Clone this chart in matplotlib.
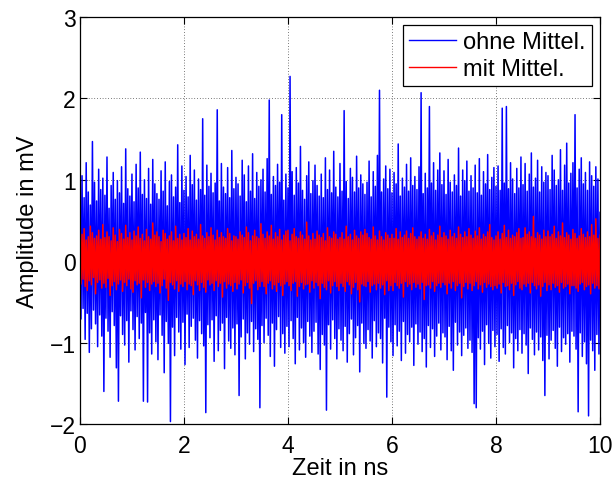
import numpy as np
import matplotlib.pyplot as plt
from matplotlib.lines import Line2D

plt.rcParams['font.family'] = ['Liberation Sans', 'DejaVu Sans']

# Messwerte ohne Mittelung (mV), Ober-/Unterkante je Pixelspalte aus dem Bild abgeschaetzt
ohne_mittel = [
    0.92, -0.71, 1.05, -0.58, 0.78, -0.96, 1.21, -0.64, 0.85, -1.12, 0.69, -0.83, 1.47, -0.6, 0.97, -0.77, 0.74, -1.05, 1.13, -0.66, 0.88, -0.92, 1.02, -1.6, 0.81,
    -0.7, 1.28, -0.86, 0.65, -1.18, 0.93, -0.62, 1.09, -0.79, 0.76, -1.31, 0.99, -1.72, 0.84, -0.67, 1.16, -0.9, 0.71, -1.03, 1.38, -0.73, 0.89, -1.24, 0.8, -0.61,
    1.07, -0.84, 0.73, -1.09, 1.19, -0.68, 0.9, -0.95, 1.34, -0.76, 0.82, -1.72, 1.0, -0.63, 0.77, -1.73, 1.14, -0.88, 0.7, -1.14, 1.25, -0.72, 0.95, -0.99, 0.83,
    -1.21, 0.76, -0.66, 1.11, -0.91, 0.86, -1.37, 1.22, -0.74, 0.68, -1.01, 0.98, -1.97, 1.06, -0.81, 0.79, -1.16, 0.91, -0.69, 1.43, -0.87, 0.72, -1.08, 1.17, -0.75,
    0.87, -1.27, 1.04, -0.65, 0.79, -1.06, 1.3, -0.8, 0.94, -0.7, 1.12, -0.97, 0.75, -1.19, 1.01, -0.73, 0.88, -0.89, 1.75, -1.04, 0.81, -1.86, 1.18, -0.78, 0.92,
    -0.94, 1.08, -0.72, 0.84, -1.23, 0.96, -0.67, 1.86, -1.1, 0.74, -0.85, 1.2, -0.76, 0.91, -1.32, 0.83, -0.69, 1.15, -0.98, 0.78, -1.07, 1.36, -0.82, 0.89, -1.15,
    1.03, -0.77, 0.95, -1.65, 0.8, -0.93, 1.24, -0.71, 1.06, -1.2, 0.73, -0.88, 1.17, -1.02, 0.86, -0.74, 1.32, -1.11, 0.77, -0.83, 1.09, -0.96, 0.92, -1.8, 1.0,
    -0.79, 1.13, -1.0, 0.85, -0.7, 1.26, -0.91, 1.98, -1.17, 0.82, -0.76, 1.04, -1.29, 0.93, -0.84, 1.19, -0.68, 0.97, -1.06, 1.8, -0.89, 0.75, -1.13, 1.07, -0.8,
    0.9, -1.05, 2.27, -0.73, 1.1, -0.95, 0.81, -1.26, 1.15, -0.69, 0.96, -1.09, 1.41, -0.82, 0.87, -1.0, 0.76, -1.18, 1.05, -0.74, 1.22, -0.92, 0.83, -1.12, 0.99,
    -0.86, 1.18, -0.75, 0.93, -1.14, 0.8, -1.33, 1.07, -0.9, 0.78, -1.03, 1.27, -1.83, 0.88, -0.78, 1.12, -1.08, 0.84, -0.72, 1.35, -0.95, 0.91, -1.2, 0.79, -0.83,
    1.2, -0.97, 0.86, -1.1, 1.85, -0.8, 0.98, -1.24, 0.77, -0.89, 1.14, -0.71, 1.03, -1.15, 0.85, -0.94, 1.29, -0.79, 0.9, -1.36, 1.06, -0.76, 0.95, -1.01, 0.82,
    -1.07, 0.97, -0.84, 1.23, -0.98, 0.79, -1.19, 1.1, -0.73, 0.92, -1.05, 1.3, -0.88, 2.1, -0.95, 0.85, -1.25, 1.01, -0.7, 1.17, -1.67, 0.89, -0.81, 1.13, -0.99,
    0.84, -1.16, 1.09, -0.78, 0.95, -1.04, 1.44, -0.86, 0.8, -1.22, 1.02, -0.74, 0.91, -1.13, 1.19, -0.9, 0.86, -0.99, 1.27, -0.81, 0.93, -1.28, 1.04, -0.77, 0.88,
    -1.02, 1.16, -0.87, 2.07, -1.11, 0.83, -0.95, 1.08, -1.3, 0.9, -0.79, 1.9, -1.06, 0.96, -0.83, 1.21, -1.17, 0.87, -0.92, 1.12, -0.76, 1.33, -1.09, 0.94, -0.88,
    1.11, -0.93, 0.82, -1.21, 1.25, -0.8, 0.97, -1.1, 0.85, -1.34, 1.06, -0.75, 0.93, -1.03, 1.39, -0.87, 0.8, -1.16, 1.12, -0.91, 0.99, -0.82, 1.23, -1.07, 0.86,
    -0.97, 1.05, -1.12, 0.9, -1.75, 1.18, -1.8, 0.84, -0.94, 1.26, -1.08, 0.81, -0.86, 1.1, -1.27, 0.95, -0.78, 1.31, -1.01, 0.88, -1.19, 1.03, -0.85, 1.15, -1.05,
    0.92, -0.9, 1.17, -1.23, 0.87, -0.83, 1.88, -1.06, 0.96, -1.14, 1.9, -0.79, 0.89, -1.0, 1.21, -0.88, 1.01, -1.31, 0.83, -0.95, 1.14, -1.1, 0.9, -0.84, 1.28,
    -1.13, 0.94, -0.89, 1.2, -1.03, 0.86, -1.38, 1.07, -0.82, 1.33, -0.96, 0.91, -1.15, 1.02, -0.87, 1.24, -1.09, 0.85, -0.93, 1.16, -1.22, 0.97, -1.65, 1.09, -0.91,
    1.05, -1.2, 0.88, -0.97, 1.3, -0.85, 1.12, -1.07, 0.93, -1.29, 1.0, -0.81, 1.37, -1.11, 0.87, -0.94, 1.18, -1.02, 1.45, -0.89, 0.96, -1.24, 1.08, -0.86, 1.21,
    -0.92, 1.8, -1.08, 0.9, -1.85, 1.13, -0.88, 1.27, -1.17, 0.95, -0.99, 1.09, -1.26, 0.87, -1.9, 1.22, -0.97, 1.05, -1.1, 0.92, -1.34, 1.16, -0.9, 1.01, -1.14,
    0.6,
]

# Messwerte mit Mittelung (mV)
mit_mittel = [
    0.52, -0.28, 0.33, -0.22, 0.4, -0.31, 0.26, -0.36, 0.3, -0.24, 0.43, -0.29, 0.35, -0.2, 0.28, -0.4, 0.31, -0.26, 0.38, -0.23, 0.27, -0.33, 0.45, -0.27, 0.29,
    -0.32, 0.36, -0.21, 0.3, -0.42, 0.25, -0.3, 0.41, -0.25, 0.32, -0.35, 0.24, -0.28, 0.39, -0.23, 0.34, -0.37, 0.27, -0.26, 0.44, -0.3, 0.29, -0.22, 0.35, -0.34,
    0.26, -0.38, 0.37, -0.24, 0.31, -0.29, 0.42, -0.27, 0.28, -0.45, 0.33, -0.23, 0.25, -0.32, 0.39, -0.26, 0.3, -0.36, 0.27, -0.28, 0.47, -0.25, 0.32, -0.31, 0.36,
    -0.27, 0.3, -0.39, 0.24, -0.3, 0.38, -0.22, 0.34, -0.33, 0.27, -0.48, 0.31, -0.26, 0.36, -0.29, 0.25, -0.34, 0.43, -0.24, 0.28, -0.37, 0.33, -0.28, 0.26, -0.31,
    0.34, -0.25, 0.29, -0.35, 0.4, -0.28, 0.26, -0.3, 0.37, -0.41, 0.3, -0.24, 0.33, -0.29, 0.27, -0.36, 0.45, -0.26, 0.31, -0.32, 0.28, -0.38, 0.35, -0.23, 0.3,
    -0.29, 0.41, -0.27, 0.32, -0.36, 0.26, -0.24, 0.38, -0.31, 0.29, -0.27, 0.35, -0.44, 0.3, -0.25, 0.28, -0.33, 0.4, -0.28, 0.34, -0.3, 0.25, -0.37, 0.31, -0.26,
    0.3, -0.34, 0.27, -0.28, 0.36, -0.23, 0.32, -0.39, 0.29, -0.3, 0.42, -0.26, 0.35, -0.33, 0.25, -0.52, 0.31, -0.27, 0.38, -0.24, 0.3, -0.35, 0.28, -0.31, 0.46,
    -0.25, 0.33, -0.31, 0.28, -0.4, 0.36, -0.27, 0.31, -0.24, 0.44, -0.34, 0.27, -0.29, 0.35, -0.37, 0.3, -0.26, 0.39, -0.3, 0.26, -0.42, 0.32, -0.28, 0.37, -0.25,
    0.38, -0.3, 0.25, -0.36, 0.33, -0.27, 0.4, -0.25, 0.3, -0.43, 0.28, -0.31, 0.36, -0.26, 0.32, -0.34, 0.27, -0.29, 0.48, -0.28, 0.31, -0.38, 0.26, -0.24, 0.34,
    -0.33, 0.27, -0.26, 0.37, -0.3, 0.32, -0.46, 0.29, -0.27, 0.34, -0.32, 0.25, -0.35, 0.41, -0.24, 0.3, -0.39, 0.28, -0.3, 0.36, -0.25, 0.33, -0.31, 0.27, -0.36,
    0.29, -0.27, 0.35, -0.31, 0.27, -0.37, 0.43, -0.25, 0.3, -0.29, 0.33, -0.4, 0.26, -0.32, 0.38, -0.26, 0.31, -0.35, 0.28, -0.5, 0.36, -0.28, 0.32, -0.3, 0.39,
    -0.31, 0.34, -0.25, 0.29, -0.38, 0.27, -0.3, 0.42, -0.28, 0.31, -0.35, 0.26, -0.27, 0.37, -0.33, 0.3, -0.29, 0.26, -0.41, 0.35, -0.24, 0.32, -0.36, 0.28, -0.3,
    0.33, -0.36, 0.28, -0.26, 0.4, -0.3, 0.27, -0.33, 0.36, -0.27, 0.29, -0.44, 0.32, -0.25, 0.37, -0.31, 0.28, -0.28, 0.34, -0.35, 0.41, -0.26, 0.3, -0.32, 0.27,
    -0.28, 0.3, -0.34, 0.36, -0.26, 0.28, -0.47, 0.33, -0.3, 0.27, -0.29, 0.39, -0.33, 0.31, -0.25, 0.35, -0.37, 0.26, -0.3, 0.32, -0.27, 0.43, -0.32, 0.29, -0.26,
    0.35, -0.29, 0.31, -0.4, 0.27, -0.27, 0.38, -0.33, 0.3, -0.25, 0.34, -0.36, 0.28, -0.3, 0.42, -0.27, 0.33, -0.45, 0.29, -0.31, 0.36, -0.26, 0.3, -0.34, 0.4,
    -0.27, 0.32, -0.36, 0.28, -0.3, 0.37, -0.25, 0.31, -0.34, 0.41, -0.29, 0.27, -0.38, 0.33, -0.26, 0.3, -0.32, 0.36, -0.28, 0.45, -0.31, 0.29, -0.35, 0.26, -0.3,
    0.31, -0.33, 0.36, -0.28, 0.27, -0.39, 0.34, -0.26, 0.44, -0.31, 0.29, -0.3, 0.38, -0.35, 0.28, -0.27, 0.32, -0.42, 0.3, -0.29, 0.35, -0.25, 0.4, -0.33, 0.28,
    -0.35, 0.29, -0.28, 0.41, -0.31, 0.33, -0.27, 0.36, -0.39, 0.3, -0.26, 0.55, -0.3, 0.28, -0.34, 0.35, -0.29, 0.32, -0.43, 0.27, -0.31, 0.38, -0.26, 0.3, -0.36,
    0.37, -0.29, 0.3, -0.35, 0.33, -0.27, 0.43, -0.32, 0.28, -0.3, 0.36, -0.38, 0.31, -0.26, 0.47, -0.33, 0.29, -0.31, 0.35, -0.28, 0.32, -0.4, 0.27, -0.3, 0.39,
    -0.3, 0.34, -0.33, 0.28, -0.37, 0.31, -0.28, 0.4, -0.26, 0.33, -0.35, 0.29, -0.31, 0.36, -0.29, 0.3, -0.4, 0.45, -0.27, 0.32, -0.33, 0.52, -0.3, 0.28, -0.34,
    0.32,
]

t_ohne = np.linspace(0, 10, len(ohne_mittel))
t_mit = np.linspace(0, 10, len(mit_mittel))

fig = plt.figure(figsize=(6.15, 4.81), dpi=100)
ax = fig.add_axes([0.130, 0.1164, 0.8456, 0.8462])

ax.plot(t_ohne, ohne_mittel, color='#0000ff', lw=1.1)
ax.plot(t_mit, mit_mittel, color='#ff0000', lw=1.1)

ax.set_xlim(0, 10)
ax.set_ylim(-2, 3)
ax.set_xticks([0, 2, 4, 6, 8, 10])
ax.set_yticks([-2, -1, 0, 1, 2, 3])
ax.set_yticklabels(['\u22122', '\u22121', '0', '1', '2', '3'])
ax.grid(True, color='black', linestyle=(0, (1, 3)), linewidth=0.5)
ax.tick_params(direction='in', top=True, right=True, labelsize=16.5, length=5, width=0.8)
ax.tick_params(axis='x', pad=7)
ax.tick_params(axis='y', pad=3)
for s in ax.spines.values():
    s.set_linewidth(0.9)

ax.set_xlabel('Zeit in ns', fontsize=17, labelpad=0)
ax.set_ylabel('Amplitude in mV', fontsize=17, labelpad=8)

handles = [Line2D([], [], color='#0000ff', lw=1.0),
           Line2D([], [], color='#ff0000', lw=1.0)]
leg = ax.legend(handles, ['ohne Mittel.', 'mit Mittel.'], loc='upper right',
                fontsize=17, fancybox=False, framealpha=1, edgecolor='black',
                borderaxespad=0.35, handlelength=2.0, handletextpad=0.3,
                borderpad=0.25, labelspacing=0.2)
leg.get_frame().set_linewidth(0.9)

fig.savefig('out.png', dpi=100)
